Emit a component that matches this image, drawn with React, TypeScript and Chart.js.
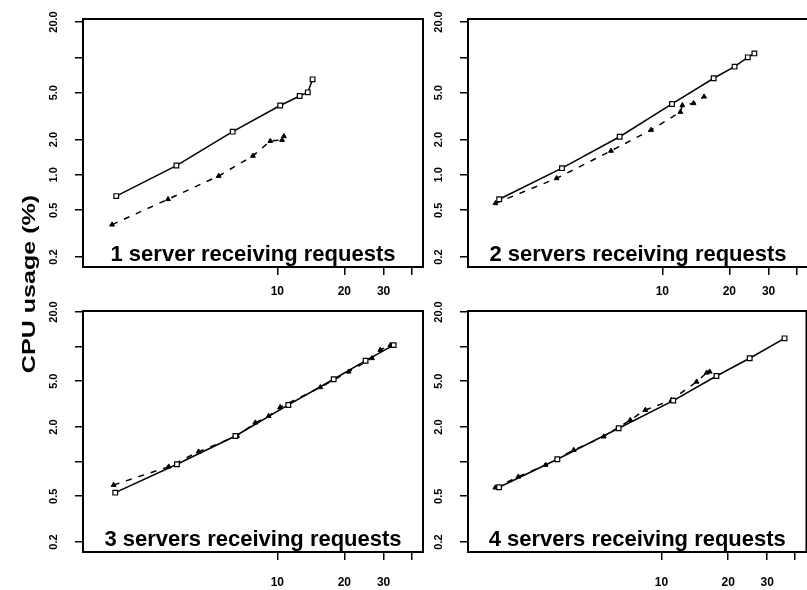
import React, { useEffect, useRef } from 'react';
import { Chart, registerables } from 'chart.js';

Chart.register(...registerables);

// ---------- data ----------
const panelTitles = [
  '1 server receiving requests',
  '2 servers receiving requests',
  '3 servers receiving requests',
  '4 servers receiving requests',
];
const yAxisTitle = 'CPU usage (%)';

const xTicks = [10, 20, 30, 40];
const xTickLabels = ['10', '20', '30', ''];
const yTicks = [0.2, 0.5, 1, 2, 5, 10, 20];
const yTickLabelsTop = ['0.2', '0.5', '1.0', '2.0', '5.0', '', '20.0'];
const yTickLabelsBottom = ['0.2', '0.5', '', '2.0', '5.0', '', '20.0'];

// panel 1
const p1SolidX = [1.89, 3.52, 6.3, 10.3, 12.6, 13.7, 14.4];
const p1SolidY = [0.66, 1.2, 2.33, 3.89, 4.69, 5.04, 6.5];
const p1DashX = [1.81, 3.23, 5.45, 7.77, 9.3, 10.5, 10.7];
const p1DashY = [0.377, 0.62, 0.978, 1.45, 1.94, 1.98, 2.13];

// panel 2
const p2SolidX = [1.85, 3.54, 6.43, 11.05, 17.0, 21.1, 24.2, 25.9];
const p2SolidY = [0.62, 1.14, 2.11, 4.01, 6.64, 8.33, 10.0, 10.8];
const p2DashX = [1.78, 3.35, 5.88, 8.9, 12.05, 12.3, 13.8, 15.4];
const p2DashY = [0.573, 0.935, 1.6, 2.41, 3.43, 3.91, 4.07, 4.63];

// panel 3
const p3SolidX = [1.87, 3.54, 6.48, 11.2, 17.9, 24.9, 33.3];
const p3SolidY = [0.537, 0.949, 1.67, 3.11, 5.2, 7.54, 10.3];
const p3DashX = [1.84, 3.25, 4.43, 6.59, 7.96, 9.14, 10.3, 15.6, 20.9, 26.6, 29.0, 32.2];
const p3DashY = [0.626, 0.903, 1.22, 1.67, 2.18, 2.49, 2.97, 4.43, 6.05, 7.92, 9.35, 10.3];

// panel 4
const p4SolidX = [1.85, 3.39, 6.41, 11.3, 17.7, 25.0, 35.9];
const p4SolidY = [0.598, 1.048, 1.95, 3.39, 5.55, 7.92, 11.8];
const p4DashX = [1.78, 2.26, 3.0, 4.02, 5.49, 7.23, 8.45, 11.1, 14.4, 16.0, 16.5];
const p4DashY = [0.594, 0.739, 0.935, 1.26, 1.65, 2.3, 2.81, 3.43, 4.95, 5.93, 6.05];

// ---------- layout / style ----------
const FONT = '"Liberation Sans", Arial, Helvetica, sans-serif';
const CW = 810;
const CH = 590;
const Y_AXIS_W = 60;
const X_AXIS_H = 37;
const X_MIN = 1.34;
const X_MAX = 45.1;

type Box = { l: number; t: number; r: number; b: number };
type Panel = {
  title: string;
  solidX: number[];
  solidY: number[];
  dashX: number[];
  dashY: number[];
  box: Box;
  yMin: number;
  yMax: number;
  yLabels: string[];
  xPad: number;
  yTitle: boolean;
};

const panels: Panel[] = [
  { title: panelTitles[0], solidX: p1SolidX, solidY: p1SolidY, dashX: p1DashX, dashY: p1DashY,
    box: { l: 83, t: 19, r: 423, b: 267 }, yMin: 0.1644, yMax: 21.2, yLabels: yTickLabelsTop, xPad: 9.5, yTitle: true },
  { title: panelTitles[1], solidX: p2SolidX, solidY: p2SolidY, dashX: p2DashX, dashY: p2DashY,
    box: { l: 468, t: 19, r: 808, b: 267 }, yMin: 0.1644, yMax: 21.2, yLabels: yTickLabelsTop, xPad: 9.5, yTitle: false },
  { title: panelTitles[2], solidX: p3SolidX, solidY: p3SolidY, dashX: p3DashX, dashY: p3DashY,
    box: { l: 83, t: 311, r: 423, b: 552 }, yMin: 0.1637, yMax: 20.4, yLabels: yTickLabelsBottom, xPad: 15, yTitle: false },
  { title: panelTitles[3], solidX: p4SolidX, solidY: p4SolidY, dashX: p4DashX, dashY: p4DashY,
    box: { l: 468, t: 311, r: 808, b: 552 }, yMin: 0.1637, yMax: 20.4, yLabels: yTickLabelsBottom, xPad: 15, yTitle: false },
];

function pts(xs: number[], ys: number[]) {
  return xs.map((x, i) => ({ x, y: ys[i] }));
}

function makeConfig(p: Panel): any {
  const framePlugin = {
    id: 'frameAndTitle',
    afterDraw(chart: any) {
      const { ctx, chartArea } = chart;
      const { left, top, right, bottom } = chartArea;
      ctx.save();
      ctx.strokeStyle = '#000';
      ctx.lineWidth = 2;
      ctx.strokeRect(left, top, right - left, bottom - top);
      ctx.fillStyle = '#000';
      ctx.font = `bold 22px ${FONT}`;
      ctx.textAlign = 'center';
      ctx.textBaseline = 'alphabetic';
      ctx.fillText(p.title, (left + right) / 2, bottom - 6);
      if (p.yTitle) {
        ctx.translate(30, 284);
        ctx.rotate(-Math.PI / 2);
        ctx.scale(1.32, 1);
        ctx.font = `bold 19px ${FONT}`;
        ctx.textAlign = 'center';
        ctx.textBaseline = 'middle';
        ctx.fillText(yAxisTitle, 0, 0);
      }
      ctx.restore();
    },
  };

  return {
    type: 'line',
    data: {
      datasets: [
        {
          data: pts(p.solidX, p.solidY),
          borderColor: '#000',
          borderWidth: 1.5,
          pointStyle: 'rect',
          pointRadius: 3.3,
          pointBackgroundColor: '#fff',
          pointBorderColor: '#000',
          pointBorderWidth: 1.2,
          tension: 0,
          fill: false,
        },
        {
          data: pts(p.dashX, p.dashY),
          borderColor: '#000',
          borderWidth: 1.5,
          borderDash: [6, 7],
          pointStyle: 'triangle',
          pointRadius: 2.8,
          pointBackgroundColor: '#000',
          pointBorderColor: '#000',
          pointBorderWidth: 1,
          tension: 0,
          fill: false,
        },
      ],
    },
    options: {
      animation: false,
      responsive: false,
      maintainAspectRatio: false,
      devicePixelRatio: 1,
      events: [],
      layout: {
        autoPadding: false,
        padding: {
          left: p.box.l - Y_AXIS_W,
          top: p.box.t,
          right: CW - p.box.r,
          bottom: CH - p.box.b - X_AXIS_H,
        },
      },
      plugins: { legend: { display: false }, tooltip: { enabled: false }, title: { display: false } },
      scales: {
        x: {
          type: 'logarithmic',
          position: 'bottom',
          min: X_MIN,
          max: X_MAX,
          bounds: 'data',
          afterBuildTicks: (s: any) => {
            s.ticks = xTicks.map((v) => ({ value: v }));
          },
          afterFit: (s: any) => {
            s.height = X_AXIS_H;
          },
          ticks: {
            autoSkip: false,
            minRotation: 0,
            maxRotation: 0,
            padding: p.xPad,
            color: '#000',
            font: { family: FONT, weight: 'bold', size: 12 },
            callback: (_v: any, i: number) => xTickLabels[i],
          },
          grid: { drawOnChartArea: false, drawTicks: true, tickLength: 8, color: '#000', lineWidth: 1.5 },
          border: { display: false },
        },
        y: {
          type: 'logarithmic',
          position: 'left',
          min: p.yMin,
          max: p.yMax,
          bounds: 'data',
          afterBuildTicks: (s: any) => {
            s.ticks = yTicks.map((v) => ({ value: v }));
          },
          afterFit: (s: any) => {
            s.width = Y_AXIS_W;
          },
          ticks: {
            autoSkip: false,
            minRotation: 90,
            maxRotation: 90,
            crossAlign: 'center',
            padding: 10,
            color: '#000',
            font: { family: FONT, weight: 'bold', size: 11 },
            callback: (_v: any, i: number) => p.yLabels[i],
          },
          grid: { drawOnChartArea: false, drawTicks: true, tickLength: 8, color: '#000', lineWidth: 1.5 },
          border: { display: false },
        },
      },
    },
    plugins: [framePlugin],
  };
}

export default function App() {
  const canvases = useRef<(HTMLCanvasElement | null)[]>([]);

  useEffect(() => {
    const charts = panels.map((p, i) => new Chart(canvases.current[i] as HTMLCanvasElement, makeConfig(p)));
    return () => charts.forEach((c) => c.destroy());
  }, []);

  return (
    <div style={{ position: 'fixed', left: 0, top: 0, width: 807, height: 590, overflow: 'hidden', background: '#fff' }}>
      {panels.map((_p, i) => (
        <canvas
          key={i}
          ref={(el) => {
            canvases.current[i] = el;
          }}
          width={CW}
          height={CH}
          style={{ position: 'absolute', left: 0, top: 0, width: CW, height: CH }}
        />
      ))}
    </div>
  );
}
